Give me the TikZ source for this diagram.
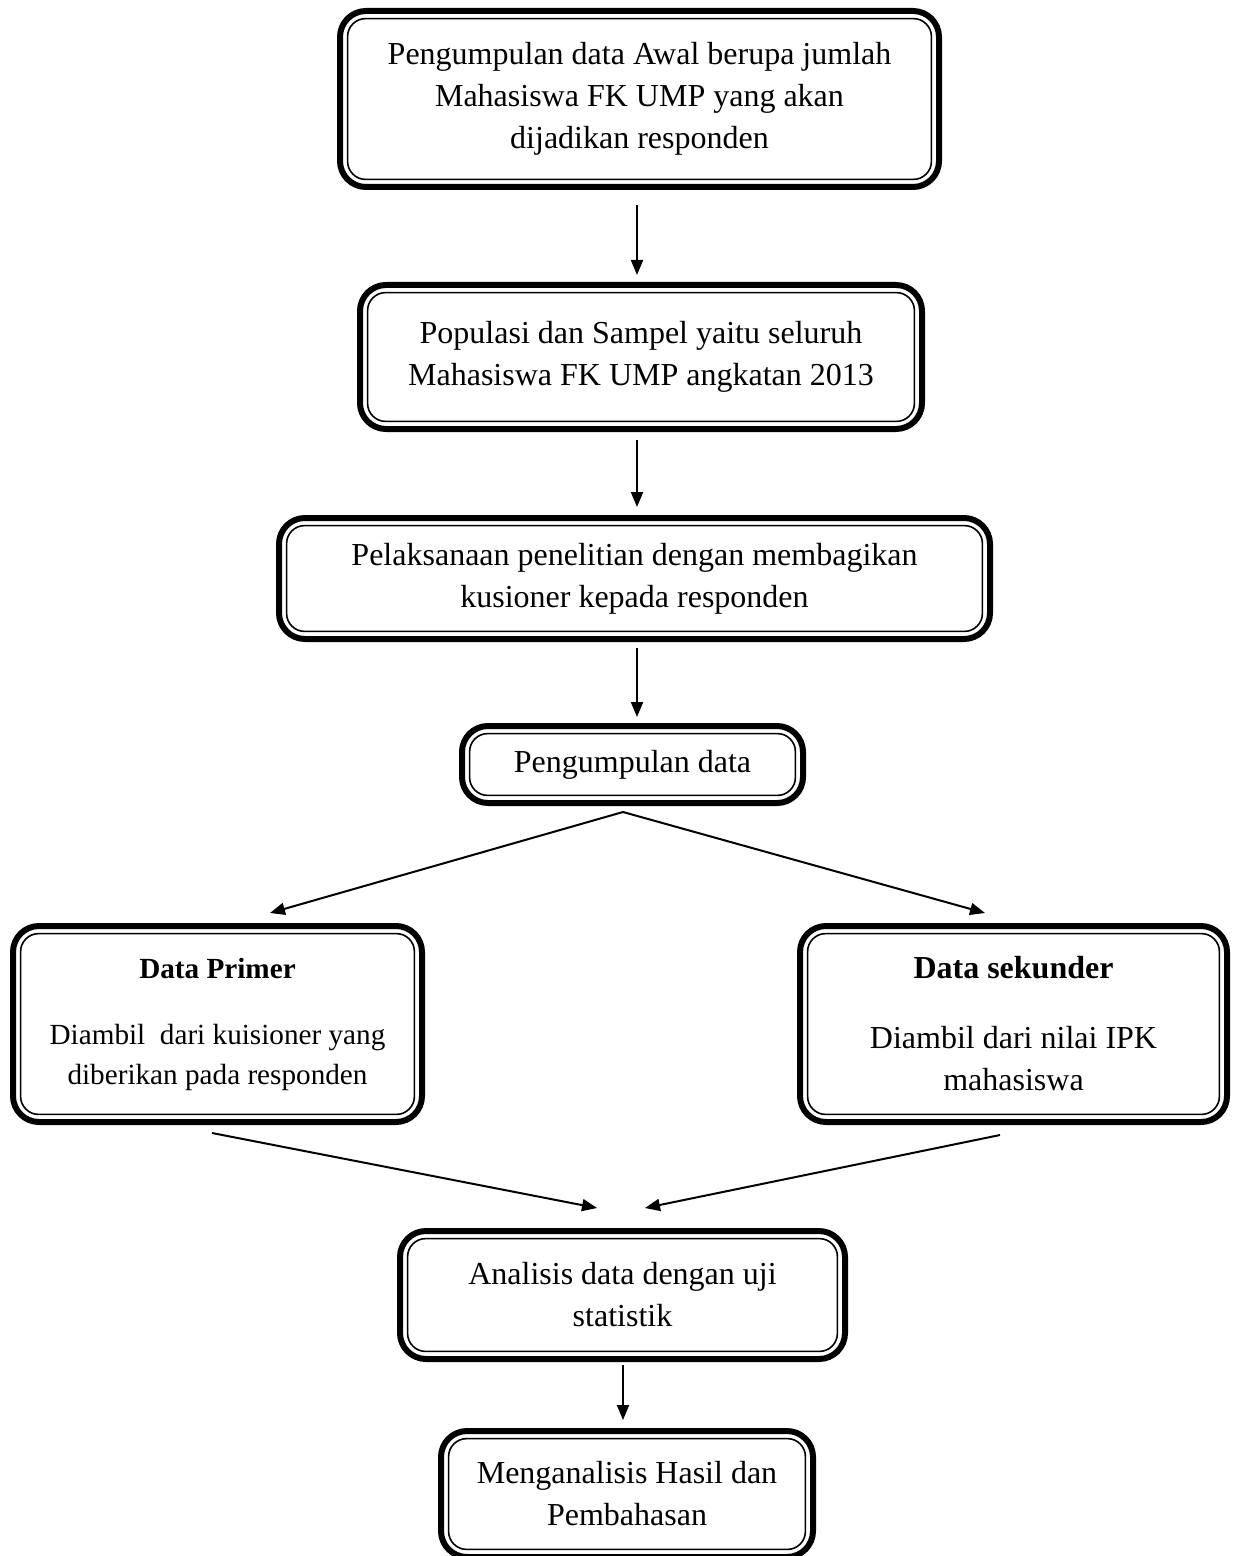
\documentclass[tikz,border=0pt]{standalone}
\usepackage{fontspec}
\setmainfont{Liberation Serif}
\usetikzlibrary{calc,arrows.meta}
\begin{document}
\begin{tikzpicture}[x=0.5pt,y=-0.5pt,
  box/.style={draw=black, line width=3pt, rounded corners=13pt, align=center,
    inner sep=0pt, outer sep=0pt, font=\fontsize{16}{21}\selectfont, fill=white},
  arr/.style={draw=black, line width=1pt, -{Triangle[length=7.5pt,width=6pt]}},
  innerline/.style={draw=black, line width=0.8pt, rounded corners=9pt}]
\useasboundingbox (0,0) rectangle (1234,1556);
\node[box, minimum width=299.5pt, minimum height=88pt] (b1) at (639.5,99)
  {Pengumpulan data Awal berupa jumlah\\Mahasiswa FK UMP yang akan\\dijadikan responden};
\node[box, minimum width=281pt, minimum height=72pt] (b2) at (641,357)
  {Populasi dan Sampel yaitu seluruh\\Mahasiswa FK UMP angkatan 2013};
\node[box, minimum width=355.5pt, minimum height=60.5pt] (b3) at (634.5,578.5)
  {Pelaksanaan penelitian dengan membagikan\\kusioner kepada responden};
\node[box, minimum width=170.5pt, minimum height=38.5pt] (b4) at (632.5,764.5)
  {Pengumpulan data};
\node[box, minimum width=204.5pt, minimum height=98pt, font=\fontsize{14.6}{20}\selectfont] (b5) at (217.5,1024)
  {\textbf{Data Primer}\\[13pt]Diambil\ \ dari kuisioner yang\\diberikan pada responden};
\node[box, minimum width=213.5pt, minimum height=98pt] (b6) at (1013.5,1024)
  {\textbf{Data sekunder}\\[14pt]Diambil dari nilai IPK\\mahasiswa};
\node[box, minimum width=222.5pt, minimum height=64pt] (b7) at (622.5,1295)
  {Analisis data dengan uji\\statistik};
\node[box, minimum width=186pt, minimum height=63pt] (b8) at (627,1494)
  {Menganalisis Hasil dan\\Pembahasan};
\foreach \bx in {b1,b2,b3,b4,b5,b6,b7,b8}{
  \draw[innerline] ([xshift=3.8pt,yshift=3.8pt]\bx.south west) rectangle ([xshift=-3.8pt,yshift=-3.8pt]\bx.north east);
}
\coordinate (split) at ($(b4.south)+(-9.5,9)$);
\draw[arr] ($(b1.south)+(-2.5,18)$) -- ($(b2.north)+(-4,-10)$);
\draw[arr] ($(b2.south)+(-4,11)$) -- ($(b3.north)+(2.5,-11)$);
\draw[arr] ($(b3.south)+(2.5,9)$) -- ($(b4.north)+(4.5,-9)$);
\draw[arr] (split) -- ($(b5.north)+(52.5,-13)$);
\draw[arr] (split) -- ($(b6.north)+(-28.5,-13)$);
\draw[arr] ($(b5.south)+(-5.5,11)$) -- ($(b7.north)+(-25.5,-23)$);
\draw[arr] ($(b6.south)+(-13.5,13)$) -- ($(b7.north)+(22.5,-23)$);
\draw[arr] ($(b7.south)+(0.5,6)$) -- ($(b8.north)+(-4,-11)$);
\end{tikzpicture}
\end{document}
